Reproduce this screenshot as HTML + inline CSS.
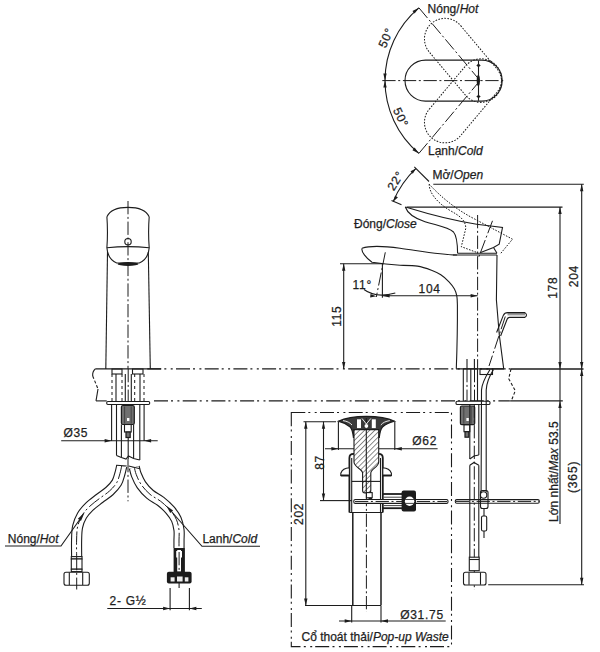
<!DOCTYPE html>
<html><head><meta charset="utf-8"><style>
html,body{margin:0;padding:0;background:#fff;width:600px;height:652px;overflow:hidden}
svg{display:block}

.s{stroke:#1c1c1c;stroke-width:1.1;fill:none}
.thick{stroke:#1c1c1c;stroke-width:1.5;fill:none}
.cl{stroke:#1c1c1c;stroke-width:1;fill:none;stroke-dasharray:13.3 2.6 2 2.7}
.ph{stroke:#1c1c1c;stroke-width:1.1;fill:none;stroke-dasharray:14 3 2 4.4 2 3.3}
.dt{stroke:#1c1c1c;stroke-width:1;fill:none;stroke-dasharray:1.6 1.4}
.dsh{stroke:#1c1c1c;stroke-width:1.1;fill:none;stroke-dasharray:3 2}
.ah{fill:#1c1c1c;stroke:none}
.fillk{fill:#1c1c1c;stroke:none}
.fillg{fill:#707070;stroke:#1c1c1c;stroke-width:1.2}
.s2{stroke:#1c1c1c;stroke-width:1.8;fill:none}
.fl{stroke:#1c1c1c;stroke-width:2.4;fill:none}
.w{stroke:#fff;stroke-width:0.9;fill:none}
.gs{stroke:#444;stroke-width:1;fill:none}
.s15{stroke:#1c1c1c;stroke-width:1.5;fill:none}
.flg{fill:#3a3a3a;stroke:#1c1c1c;stroke-width:1.2}
.fl2{stroke:#1c1c1c;stroke-width:3.2;fill:none}
.dt2{stroke:#1c1c1c;stroke-width:1;fill:none;stroke-dasharray:3 3}
.hoseo{stroke:#1c1c1c;stroke-width:11.2;fill:none}
.hosei{stroke:#fff;stroke-width:9;fill:none}
.hatch{fill:url(#hp);stroke:#1c1c1c;stroke-width:1.1}
text{font-family:"Liberation Sans",sans-serif;fill:#1e1e1e;stroke:#1e1e1e;stroke-width:0.25}

</style></head><body>
<svg width="600" height="652" viewBox="0 0 600 652">
<defs><pattern id="hp" width="3.6" height="3.6" patternUnits="userSpaceOnUse" patternTransform="rotate(45)"><rect width="3.6" height="3.6" fill="#fff"/><line x1="0" y1="0" x2="0" y2="3.6" stroke="#1c1c1c" stroke-width="1"/></pattern></defs>
<rect class="s" x="405" y="60.1" width="97.2" height="41" rx="20.5"/>
<rect class="dt" x="405" y="60.1" width="97.2" height="41" rx="20.5" transform="rotate(50 480 80.6)"/>
<rect class="dt" x="405" y="60.1" width="97.2" height="41" rx="20.5" transform="rotate(-50 480 80.6)"/>
<line class="cl" x1="382.3" y1="80.6" x2="505.5" y2="80.6"/>
<line class="cl" x1="418.9" y1="7.8" x2="480" y2="80.6"/>
<line class="cl" x1="418.9" y1="153.4" x2="480" y2="80.6"/>
<path class="s" d="M418.9,7.8 A95,95 0 0 0 385,80.6 A95,95 0 0 0 418.9,153.4" />
<polygon class="ah" points="385.00,80.60 383.30,73.60 386.70,73.60"/>
<polygon class="ah" points="385.00,80.60 386.70,87.60 383.30,87.60"/>
<polygon class="ah" points="418.90,7.80 414.63,13.60 412.45,11.00"/>
<polygon class="ah" points="418.90,153.40 412.45,150.20 414.63,147.60"/>
<line class="s" x1="478.5" y1="60.6" x2="478.5" y2="100.8"/>
<polygon class="ah" points="478.5,63.6 480.7,65.4 478.5,67.2 476.3,65.4"/>
<polygon class="ah" points="478.5,94.7 480.7,96.5 478.5,98.3 476.3,96.5"/>
<ellipse class="fillk" cx="478.3" cy="80.6" rx="1.6" ry="5.5"/>
<text x="427.6" y="12.9" font-size="12" text-anchor="start" >Nóng/<tspan font-style="italic">Hot</tspan></text>
<text x="428" y="154.8" font-size="12" text-anchor="start" >Lạnh/<tspan font-style="italic">Cold</tspan></text>
<text transform="translate(385.6 38) rotate(-65)" x="0.35" y="4.3" font-size="12" text-anchor="middle" letter-spacing="0.7">50°</text>
<text transform="translate(400.8 117) rotate(65)" x="0.35" y="4.3" font-size="12" text-anchor="middle" letter-spacing="0.7">50°</text>
<path class="s" d="M405.3,207 C420,211.5 445,219.5 476.7,224.2 L502.5,227.5 L499.2,244.2 L493.5,247.5 L480,252.8" />
<path class="s" d="M405.3,207 C407,212 412,217.5 425,221.7 C437,225.5 448,227 453.5,232 C457,236 457.5,244 457.6,253.3" />
<path class="s" d="M493.5,247.5 L497,253.3" />
<path class="dt" d="M429.2,184.2 C440,196 455,209 475,219.2 L512.5,239.2 L500.8,253.3" />
<path class="dt" d="M429.2,184.2 C429,192 436,202 450,210.5 C460,216 465.5,220 465.8,228.3 L461.3,246.7 L477,252.5" />
<line class="cl" x1="492.5" y1="220.8" x2="478.3" y2="258.3"/>
<line class="s" x1="457.6" y1="253.3" x2="497" y2="253.3"/>
<line class="s" x1="453" y1="255" x2="497" y2="255"/>
<path class="s" d="M362,248.3 C368,246.2 382,245.8 400,248.3 C420,251 440,254.8 457,255" />
<path class="s" d="M362,248.3 C361,251.5 366,258 372,262.3 C380,263.5 388,264.5 400,265.3" />
<path class="s" d="M400,265.3 C402.92,265.43 412.25,265.28 417.5,266.1 C422.75,266.92 427.62,268.75 431.5,270.2 C435.38,271.65 437.88,272.87 440.8,274.8 C443.72,276.73 446.75,279.47 449,281.8 C451.25,284.13 453.00,286.47 454.3,288.8 C455.60,291.13 456.28,293.10 456.8,295.8 C457.32,298.50 457.30,303.47 457.4,305" />
<path class="s" d="M457.4,305 Q457.6,334 456.3,368.8" />
<path class="s" d="M497,255 L496.4,300 Q498.5,335 503.7,368.8" />
<line class="cl" x1="477.6" y1="215" x2="477.6" y2="369"/>
<rect x="507.5" y="313" width="17.5" height="2.4" fill="#999"/>
<path class="s" d="M525,312.6 L507.6,312.6 Q504.6,312.6 503.3,315.4 L496.6,332.5" />
<path class="s" d="M525,317.4 L509.6,317.4 Q507.9,317.4 507.1,319.3 L500.6,336" />
<path class="s" d="M525,312.6 Q528,315 525,317.4" />
<line class="cl" x1="505.3" y1="316.5" x2="489" y2="366"/>
<line class="s" x1="467" y1="359" x2="467" y2="368.8"/>
<line class="s" x1="474.4" y1="359" x2="474.4" y2="368.8"/>
<line class="s" x1="95.3" y1="368.9" x2="161" y2="368.9"/>
<line class="ph" x1="147.3" y1="368.9" x2="511" y2="368.9"/>
<line class="s" x1="456" y1="368.9" x2="504" y2="368.9"/>
<line class="thick" x1="511" y1="368.9" x2="583.5" y2="368.9"/>
<line class="s" x1="96" y1="400.9" x2="106.7" y2="400.9"/>
<line class="ph" x1="154" y1="400.9" x2="511" y2="400.9"/>
<line class="s" x1="511" y1="400.9" x2="562.8" y2="400.9"/>
<path class="s" d="M95.3,368.9 C93,371 92.5,374 92.7,376" />
<path class="dsh" d="M92.7,376 L98,389" />
<path class="s" d="M98,389 L96,400.9" />
<path class="dsh" d="M511,368.9 L508.7,378.7 L515.3,390.7 L511.3,400.9" />
<line class="s" x1="433.3" y1="184.2" x2="583.8" y2="184.2"/>
<line class="s" x1="407" y1="207.1" x2="562.5" y2="207.1"/>
<line class="s" x1="581.7" y1="184.2" x2="581.7" y2="585"/>
<line class="s" x1="560" y1="207.1" x2="560" y2="524"/>
<polygon class="ah" points="581.70,184.20 583.40,191.20 580.00,191.20"/>
<polygon class="ah" points="581.70,368.90 580.00,361.90 583.40,361.90"/>
<polygon class="ah" points="581.70,368.90 583.40,375.90 580.00,375.90"/>
<polygon class="ah" points="581.70,584.70 580.00,577.70 583.40,577.70"/>
<polygon class="ah" points="560.00,207.10 561.70,214.10 558.30,214.10"/>
<polygon class="ah" points="560.00,368.90 558.30,361.90 561.70,361.90"/>
<polygon class="ah" points="560.00,400.90 561.70,407.90 558.30,407.90"/>
<line class="s" x1="488.2" y1="584.7" x2="584" y2="584.7"/>
<text transform="translate(552.5 288.1) rotate(-90)" x="0.35" y="4.3" font-size="12" text-anchor="middle" letter-spacing="0.7">178</text>
<text transform="translate(573.8 276.5) rotate(-90)" x="0.35" y="4.3" font-size="12" text-anchor="middle" letter-spacing="0.7">204</text>
<text x="557.6" y="522" font-size="12" text-anchor="start" transform="rotate(-90 557.6 522)" >Lớn nhất/<tspan font-style="italic">Max</tspan> 53.5</text>
<text transform="translate(572.5 477.3) rotate(-90)" x="0.45" y="4.3" font-size="12" text-anchor="middle" letter-spacing="0.9">(365)</text>
<line class="s" x1="340" y1="263.8" x2="383" y2="263.8"/>
<line class="s" x1="343.7" y1="263.8" x2="343.7" y2="368.9"/>
<polygon class="ah" points="343.70,263.80 345.40,270.80 342.00,270.80"/>
<polygon class="ah" points="343.70,368.90 342.00,361.90 345.40,361.90"/>
<text transform="translate(336.5 316.5) rotate(-90)" x="0.35" y="4.3" font-size="12" text-anchor="middle" letter-spacing="0.7">115</text>
<line class="s" x1="382.4" y1="263.8" x2="382.4" y2="297.7"/>
<line class="cl" x1="385.3" y1="252.3" x2="376.3" y2="297"/>
<line class="s" x1="382.4" y1="295.7" x2="477.6" y2="295.7"/>
<polygon class="ah" points="477.60,295.70 470.60,297.40 470.60,294.00"/>
<polygon class="ah" points="382.60,295.70 389.60,294.00 389.60,297.40"/>
<path class="s" d="M364,289.5 Q376,298.5 395.3,293" />
<polygon class="ah" points="376.30,296.30 370.16,297.39 370.50,294.01"/>
<text x="418.6" y="292.6" font-size="12" text-anchor="start"  letter-spacing="0.7">104</text>
<text x="352.4" y="289" font-size="12" text-anchor="start"  letter-spacing="0.8">11°</text>
<path class="s" d="M393.2,201.5 A98,98 0 0 1 416,168.4" />
<polygon class="ah" points="393.20,201.50 395.10,195.56 397.93,197.44"/>
<polygon class="ah" points="416.00,168.40 412.84,173.78 410.49,171.32"/>
<line class="s" x1="414.3" y1="166.8" x2="429" y2="181.5"/>
<line class="s" x1="391.5" y1="200.6" x2="401.5" y2="204.7"/>
<text transform="translate(395.2 181) rotate(-58)" x="0.35" y="4.3" font-size="12" text-anchor="middle" letter-spacing="0.7">22°</text>
<text x="432.5" y="179.2" font-size="12" text-anchor="start" >Mở/<tspan font-style="italic">Open</tspan></text>
<text x="354" y="228.4" font-size="12" text-anchor="start" >Đóng/<tspan font-style="italic">Close</tspan></text>
<path class="s" d="M106.9,216.8 C110,210 118,207.4 128,207.4 C138,207.4 146,210 149.2,216.8" />
<path class="s" d="M106.9,216.8 Q108,232 106.9,247.8 C107.5,256 112,261 116.7,263 L139.3,263 C144,261 148.5,256 149.2,247.8 Q148,232 149.2,216.8" />
<path class="s" d="M106.9,247.8 Q128,245.5 149.2,247.8" />
<circle class="s" cx="128" cy="241.7" r="3.2"/>
<ellipse class="fillk" cx="128" cy="264" rx="10.5" ry="1.9"/>
<path class="s" d="M107.5,252 Q106.7,310 105.8,368.9" />
<path class="s" d="M148.3,252 Q149.3,310 150.3,368.9" />
<line class="cl" x1="128" y1="201" x2="128" y2="368.9"/>
<rect class="s" x="112" y="369" width="10" height="5"/>
<rect class="s" x="132.5" y="369" width="10.5" height="5"/>
<line class="dt2" x1="112" y1="374" x2="112" y2="401"/>
<line class="dt2" x1="122" y1="374" x2="122" y2="401"/>
<line class="dt2" x1="134.7" y1="374" x2="134.7" y2="401"/>
<line class="dt2" x1="144" y1="374" x2="144" y2="401"/>
<line class="s" x1="116" y1="374" x2="116" y2="401"/>
<line class="s" x1="125.3" y1="374" x2="125.3" y2="401"/>
<line class="s" x1="131.3" y1="374" x2="131.3" y2="401"/>
<line class="s" x1="140" y1="374" x2="140" y2="401"/>
<line class="cl" x1="128.2" y1="369" x2="128.2" y2="401"/>
<rect class="s" x="106.7" y="401.5" width="43" height="3" rx="1.2"/>
<line class="s" x1="111.6" y1="404.5" x2="111.6" y2="441"/>
<line class="s" x1="144.1" y1="404.5" x2="144.1" y2="441"/>
<line class="s" x1="116.5" y1="404.5" x2="116.5" y2="455.5"/>
<line class="s" x1="139.8" y1="404.5" x2="139.8" y2="460"/>
<line class="s" x1="121.4" y1="424.5" x2="121.4" y2="457.5"/>
<line class="s" x1="133.6" y1="424.5" x2="133.6" y2="458.5"/>
<rect class="fillg" x="121.4" y="405.5" width="12.9" height="19" rx="1.5"/>
<line class="gs" x1="124.6" y1="406.5" x2="124.6" y2="423.5"/>
<line class="gs" x1="131.2" y1="406.5" x2="131.2" y2="423.5"/>
<rect x="127" y="418" width="2.4" height="3" fill="#fff"/>
<rect class="s" x="124.5" y="424.5" width="6.7" height="7.5"/>
<rect class="fillg" x="126" y="432" width="4.2" height="5.5"/>
<line class="s" x1="128.2" y1="437" x2="128.2" y2="459"/>
<line class="cl" x1="128" y1="459" x2="128" y2="501.3"/>
<polyline class="s" points="116.5,455.5 121.4,457.5 126,459 128.5,456 133.6,458.5 139.8,460"/>
<line class="s" x1="61.2" y1="440.7" x2="157.7" y2="440.7"/>
<polygon class="ah" points="111.60,440.70 104.60,442.40 104.60,439.00"/>
<polygon class="ah" points="144.10,440.70 151.10,439.00 151.10,442.40"/>
<text x="63.4" y="437" font-size="12" text-anchor="start"  letter-spacing="0.7">Ø35</text>
<path class="hoseo" d="M121.7,466 C121.42,467.22 120.83,470.52 120,473.3 C119.17,476.08 118.45,479.75 116.7,482.7 C114.95,485.65 112.37,488.37 109.5,491 C106.63,493.63 102.83,495.92 99.5,498.5 C96.17,501.08 92.42,503.67 89.5,506.5 C86.58,509.33 83.98,512.13 82,515.5 C80.02,518.87 78.50,522.62 77.6,526.7 C76.70,530.78 76.76,534.90 76.6,540 C76.44,545.10 76.64,554.42 76.65,557.3" />
<path class="hosei" d="M121.7,466 C121.42,467.22 120.83,470.52 120,473.3 C119.17,476.08 118.45,479.75 116.7,482.7 C114.95,485.65 112.37,488.37 109.5,491 C106.63,493.63 102.83,495.92 99.5,498.5 C96.17,501.08 92.42,503.67 89.5,506.5 C86.58,509.33 83.98,512.13 82,515.5 C80.02,518.87 78.50,522.62 77.6,526.7 C76.70,530.78 76.76,534.90 76.6,540 C76.44,545.10 76.64,554.42 76.65,557.3" />
<path class="cl" d="M121.7,466 C121.42,467.22 120.83,470.52 120,473.3 C119.17,476.08 118.45,479.75 116.7,482.7 C114.95,485.65 112.37,488.37 109.5,491 C106.63,493.63 102.83,495.92 99.5,498.5 C96.17,501.08 92.42,503.67 89.5,506.5 C86.58,509.33 83.98,512.13 82,515.5 C80.02,518.87 78.50,522.62 77.6,526.7 C76.70,530.78 76.76,534.90 76.6,540 C76.44,545.10 76.64,554.42 76.65,557.3" />
<path class="hoseo" d="M134.3,467.3 C134.63,468.53 135.13,471.80 136.3,474.7 C137.47,477.60 139.02,481.43 141.3,484.7 C143.58,487.97 146.77,491.53 150,494.3 C153.23,497.07 157.37,498.68 160.7,501.3 C164.03,503.92 167.40,507.00 170,510 C172.60,513.00 174.80,515.97 176.3,519.3 C177.80,522.63 178.55,526.55 179,530 C179.45,533.45 179.00,537.00 179,540 C179.00,543.00 179.00,546.67 179,548" />
<path class="hosei" d="M134.3,467.3 C134.63,468.53 135.13,471.80 136.3,474.7 C137.47,477.60 139.02,481.43 141.3,484.7 C143.58,487.97 146.77,491.53 150,494.3 C153.23,497.07 157.37,498.68 160.7,501.3 C164.03,503.92 167.40,507.00 170,510 C172.60,513.00 174.80,515.97 176.3,519.3 C177.80,522.63 178.55,526.55 179,530 C179.45,533.45 179.00,537.00 179,540 C179.00,543.00 179.00,546.67 179,548" />
<path class="cl" d="M134.3,467.3 C134.63,468.53 135.13,471.80 136.3,474.7 C137.47,477.60 139.02,481.43 141.3,484.7 C143.58,487.97 146.77,491.53 150,494.3 C153.23,497.07 157.37,498.68 160.7,501.3 C164.03,503.92 167.40,507.00 170,510 C172.60,513.00 174.80,515.97 176.3,519.3 C177.80,522.63 178.55,526.55 179,530 C179.45,533.45 179.00,537.00 179,540 C179.00,543.00 179.00,546.67 179,548" />
<line class="s" x1="116.7" y1="465.3" x2="126.7" y2="466"/>
<line class="s" x1="128.7" y1="466" x2="140" y2="468.7"/>
<rect class="s" x="71.3" y="556.6" width="10.7" height="2.4" style="fill:#fff"/>
<rect class="s" x="71.3" y="559" width="10.7" height="10.2" style="fill:#fff"/>
<rect class="s" x="71.3" y="569.2" width="10.7" height="2.4" style="fill:#fff"/>
<rect class="s" x="64" y="572.2" width="25.3" height="13" rx="2" style="fill:#fff"/>
<line class="s" x1="69.3" y1="572.5" x2="69.3" y2="585"/>
<line class="s" x1="82.7" y1="572.5" x2="82.7" y2="585"/>
<line class="cl" x1="76.7" y1="557" x2="76.7" y2="589.5"/>
<rect class="fillk" x="173.6" y="548" width="11.3" height="24.2"/>
<rect x="177.2" y="550" width="3.8" height="21.5" fill="#fff"/>
<rect x="176.2" y="551" width="5.8" height="6.5" fill="#fff"/>
<line class="cl" x1="179.1" y1="552" x2="179.1" y2="571"/>
<rect class="fillk" x="166.9" y="571.8" width="24.7" height="11.8" rx="2"/>
<rect x="170.6" y="577.3" width="4" height="4.2" fill="#eee"/>
<rect x="177" y="576.5" width="5.6" height="5" fill="#eee"/>
<rect x="184.8" y="577.3" width="3.6" height="4.2" fill="#eee"/>
<line class="s" x1="179.1" y1="583" x2="179.1" y2="588"/>
<polyline class="s" points="5,546 61,546 79.4,520"/>
<text x="7.8" y="542.5" font-size="12" text-anchor="start" >Nóng/<tspan font-style="italic">Hot</tspan></text>
<polyline class="s" points="171.5,511.5 202,546.3 260,546.3"/>
<polygon class="ah" points="166.30,505.80 173.08,510.46 170.26,513.01"/>
<polygon class="ah" points="84.60,512.60 80.95,521.04 77.85,518.85"/>
<text x="202.4" y="542.5" font-size="12" text-anchor="start" >Lanh/<tspan font-style="italic">Cold</tspan></text>
<line class="s" x1="170.1" y1="588" x2="170.1" y2="610.3"/>
<line class="s" x1="189.4" y1="588" x2="189.4" y2="610.3"/>
<line class="s" x1="107.3" y1="608.5" x2="201.8" y2="608.5"/>
<polygon class="ah" points="170.10,608.50 163.10,610.20 163.10,606.80"/>
<polygon class="ah" points="189.40,608.50 196.40,606.80 196.40,610.20"/>
<text x="109.5" y="604.8" font-size="12" text-anchor="start"  letter-spacing="0.75">2- G½</text>
<rect class="ph" x="291.3" y="412.5" width="160.2" height="234.1"/>
<line class="s" x1="303.5" y1="421.7" x2="336" y2="421.7"/>
<line class="s" x1="305.8" y1="421.7" x2="305.8" y2="605.5"/>
<polygon class="ah" points="305.80,421.70 307.50,428.70 304.10,428.70"/>
<polygon class="ah" points="305.80,605.50 304.10,598.50 307.50,598.50"/>
<line class="s" x1="323.5" y1="421.7" x2="323.5" y2="500.6"/>
<polygon class="ah" points="323.50,421.70 325.20,428.70 321.80,428.70"/>
<polygon class="ah" points="323.50,500.60 321.80,493.60 325.20,493.60"/>
<line class="s" x1="320" y1="500.6" x2="352" y2="500.6"/>
<line class="s" x1="305" y1="605.5" x2="381" y2="605.5"/>
<text transform="translate(298.7 514.2) rotate(-90)" x="0.35" y="4.3" font-size="12" text-anchor="middle" letter-spacing="0.7">202</text>
<text transform="translate(319.2 462.8) rotate(-90)" x="0.35" y="4.3" font-size="12" text-anchor="middle" letter-spacing="0.7">87</text>
<line class="s" x1="338.4" y1="422" x2="338.4" y2="450"/>
<line class="s" x1="394.8" y1="422" x2="394.8" y2="450"/>
<line class="s" x1="325" y1="448.7" x2="437.6" y2="448.7"/>
<polygon class="ah" points="338.40,448.70 331.40,450.40 331.40,447.00"/>
<polygon class="ah" points="394.80,448.70 401.80,447.00 401.80,450.40"/>
<text x="412.3" y="445.2" font-size="12" text-anchor="start"  letter-spacing="0.7">Ø62</text>
<path class="flg" d="M338.3,421.2 C346,417.6 356,416.4 366.4,416.4 C377,416.4 387,417.6 394.6,421.2 C390,422.3 386,424 382.5,427 C380.5,429 379.8,433 379.3,437.3 L378.5,437.3 L378.5,429.6 L354.2,429.6 L354.2,437.3 L353.4,437.3 C352.9,433 352.2,429 350.2,427 C346.7,424 342.7,422.3 338.3,421.2 Z" />
<path class="w" d="M343,420.6 C347,421.2 350,422.6 352,425" />
<path class="w" d="M389.8,420.6 C385.8,421.2 382.8,422.6 380.8,425" />
<path class="hatch" d="M354,429.6 L378.7,429.6 L378.7,462 C378.7,467 371,469 370.8,473 L370.8,490.5 Q370.8,492.9 368.5,492.9 L364.8,492.9 Q362.6,492.9 362.6,490.5 L362.6,473 C362.4,469 354,467 354,462 Z" />
<line class="s" x1="366.3" y1="418" x2="366.3" y2="493"/>
<rect x="357" y="419.3" width="4" height="8.8" fill="#fff"/>
<rect x="371.8" y="419.3" width="4" height="8.8" fill="#fff"/>
<circle cx="366.4" cy="426" r="2.4" fill="#fff" stroke="#1c1c1c" stroke-width="0.8"/>
<line class="w" x1="362" y1="418.5" x2="366.4" y2="424"/>
<line class="w" x1="370.8" y1="418.5" x2="366.4" y2="424"/>
<rect class="s" x="366.4" y="492.6" width="5.8" height="5.2" style="fill:#fff"/>
<rect class="fillk" x="368.6" y="497.6" width="3.4" height="4.5"/>
<path class="s2" d="M349.4,512.5 L349.4,458 Q349.4,453.8 353.5,453.8 L354,453.8" />
<path class="s2" d="M382.8,512.5 L382.8,458 Q382.8,453.8 378.7,453.8 L378.7,453.8" />
<line class="s" x1="351.7" y1="458" x2="351.7" y2="512.5"/>
<line class="s" x1="380.5" y1="458" x2="380.5" y2="512.5"/>
<line class="s" x1="351.7" y1="481.4" x2="380.5" y2="481.4"/>
<line class="s" x1="349.4" y1="512.5" x2="382.8" y2="512.5"/>
<path class="s" d="M349.4,467.8 C345,468 342,470 340.8,473.2 L340.8,475.4 L349.4,475.4 Z" style="fill:#fff"/>
<line class="s2" x1="340.8" y1="475.6" x2="349.4" y2="475.6"/>
<path class="s" d="M382.8,467.8 C387.2,468 390.2,470 391.4,473.2 L391.4,475.4 L382.8,475.4 Z" style="fill:#fff"/>
<line class="s2" x1="382.8" y1="475.6" x2="391.4" y2="475.6"/>
<line class="s15" x1="352.8" y1="512.5" x2="352.8" y2="605.5"/>
<line class="s15" x1="381" y1="512.5" x2="381" y2="605.5"/>
<line class="cl" x1="366.4" y1="493" x2="366.4" y2="612"/>
<rect class="s" x="353.8" y="499.5" width="94.2" height="3.9" rx="1.5" style="fill:#fff"/>
<line class="cl" x1="355" y1="501.45" x2="447" y2="501.45"/>
<line class="s2" x1="382.8" y1="494" x2="402" y2="494"/>
<line class="s2" x1="382.8" y1="508.2" x2="402" y2="508.2"/>
<line class="gs" x1="383.5" y1="497.2" x2="402" y2="497.2"/>
<line class="gs" x1="383.5" y1="505.6" x2="402" y2="505.6"/>
<rect class="fillk" x="401.6" y="490.5" width="14.4" height="21" rx="2"/>
<circle cx="409.6" cy="501.3" r="4.7" fill="#fff"/>
<line class="gs" x1="404.9" y1="499.5" x2="414.3" y2="499.5"/>
<line class="gs" x1="404.9" y1="503.4" x2="414.3" y2="503.4"/>
<rect class="s" x="455.3" y="499.6" width="84" height="3.6" rx="1.5" style="fill:#fff"/>
<line class="cl" x1="456" y1="501.4" x2="539" y2="501.4"/>
<line class="s" x1="351.7" y1="606" x2="351.7" y2="622.6"/>
<line class="s" x1="381" y1="606" x2="381" y2="622.6"/>
<line class="s" x1="339" y1="621" x2="445.7" y2="621"/>
<polygon class="ah" points="351.70,621.00 344.70,622.70 344.70,619.30"/>
<polygon class="ah" points="381.00,621.00 388.00,619.30 388.00,622.70"/>
<text x="400.2" y="618.7" font-size="12" text-anchor="start"  letter-spacing="0.7">Ø31.75</text>
<text x="301.5" y="640.6" font-size="12" text-anchor="start" >Cổ thoát thải/<tspan font-style="italic">Pop-up Waste</tspan></text>
<line class="s" x1="463.3" y1="369" x2="463.3" y2="401"/>
<line class="s" x1="470.8" y1="369" x2="470.8" y2="401"/>
<line class="s" x1="477.5" y1="369" x2="477.5" y2="401"/>
<line class="cl" x1="467" y1="369" x2="467" y2="401"/>
<line class="cl" x1="474.5" y1="369" x2="474.5" y2="401"/>
<rect class="s" x="456" y="401.2" width="34" height="3.3" rx="1.3" style="fill:#fff"/>
<rect class="fillg" x="460.4" y="406" width="14.3" height="18.7" rx="1.5"/>
<line class="gs" x1="463.8" y1="407" x2="463.8" y2="423.7"/>
<line class="gs" x1="471.2" y1="407" x2="471.2" y2="423.7"/>
<rect x="466.4" y="418" width="2.4" height="3" fill="#fff"/>
<rect class="s" x="464" y="424.7" width="5.8" height="7" />
<rect class="fillg" x="465" y="431.7" width="3.8" height="5.5"/>
<line class="s" x1="469.8" y1="404.5" x2="469.8" y2="459"/>
<line class="s" x1="478.8" y1="404.5" x2="478.8" y2="455"/>
<line class="s" x1="469.8" y1="465.2" x2="469.8" y2="557.2"/>
<line class="s" x1="478.8" y1="465.2" x2="478.8" y2="557.2"/>
<polyline class="s" points="469.8,459 474,456 478.8,455"/>
<polyline class="s" points="469.8,465.2 474,462.5 478.8,465.2"/>
<line class="cl" x1="474.3" y1="404.5" x2="474.3" y2="590"/>
<rect class="s" x="469.3" y="557.2" width="9.9" height="13.5" style="fill:#fff"/>
<line class="s" x1="469.3" y1="559.5" x2="479.2" y2="559.5"/>
<rect class="s" x="463.5" y="572.2" width="22.5" height="12.8" rx="2" style="fill:#fff"/>
<line class="s" x1="469" y1="572.5" x2="469" y2="584.7"/>
<line class="s" x1="480.5" y1="572.5" x2="480.5" y2="584.7"/>
<path class="s" d="M490,369.5 C486,376 482,382 481.5,390 L481.1,492" />
<path class="s" d="M493.5,369.5 C489.5,376 486.5,382 486.2,390 L486.2,492" />
<rect class="s" x="480" y="369" width="12.5" height="5.5" style="fill:none"/>
<circle class="s" cx="483.6" cy="495" r="3.2" style="fill:#fff"/>
<rect class="s" x="480.5" y="490.5" width="7.5" height="18" rx="2" style="fill:none"/>
<rect class="s" x="481.5" y="516" width="5.2" height="15" rx="1.5" style="fill:#fff"/>
<line class="s" x1="484" y1="509" x2="484" y2="516"/>
<line class="s" x1="484" y1="531" x2="484" y2="538"/>
</svg></body></html>
